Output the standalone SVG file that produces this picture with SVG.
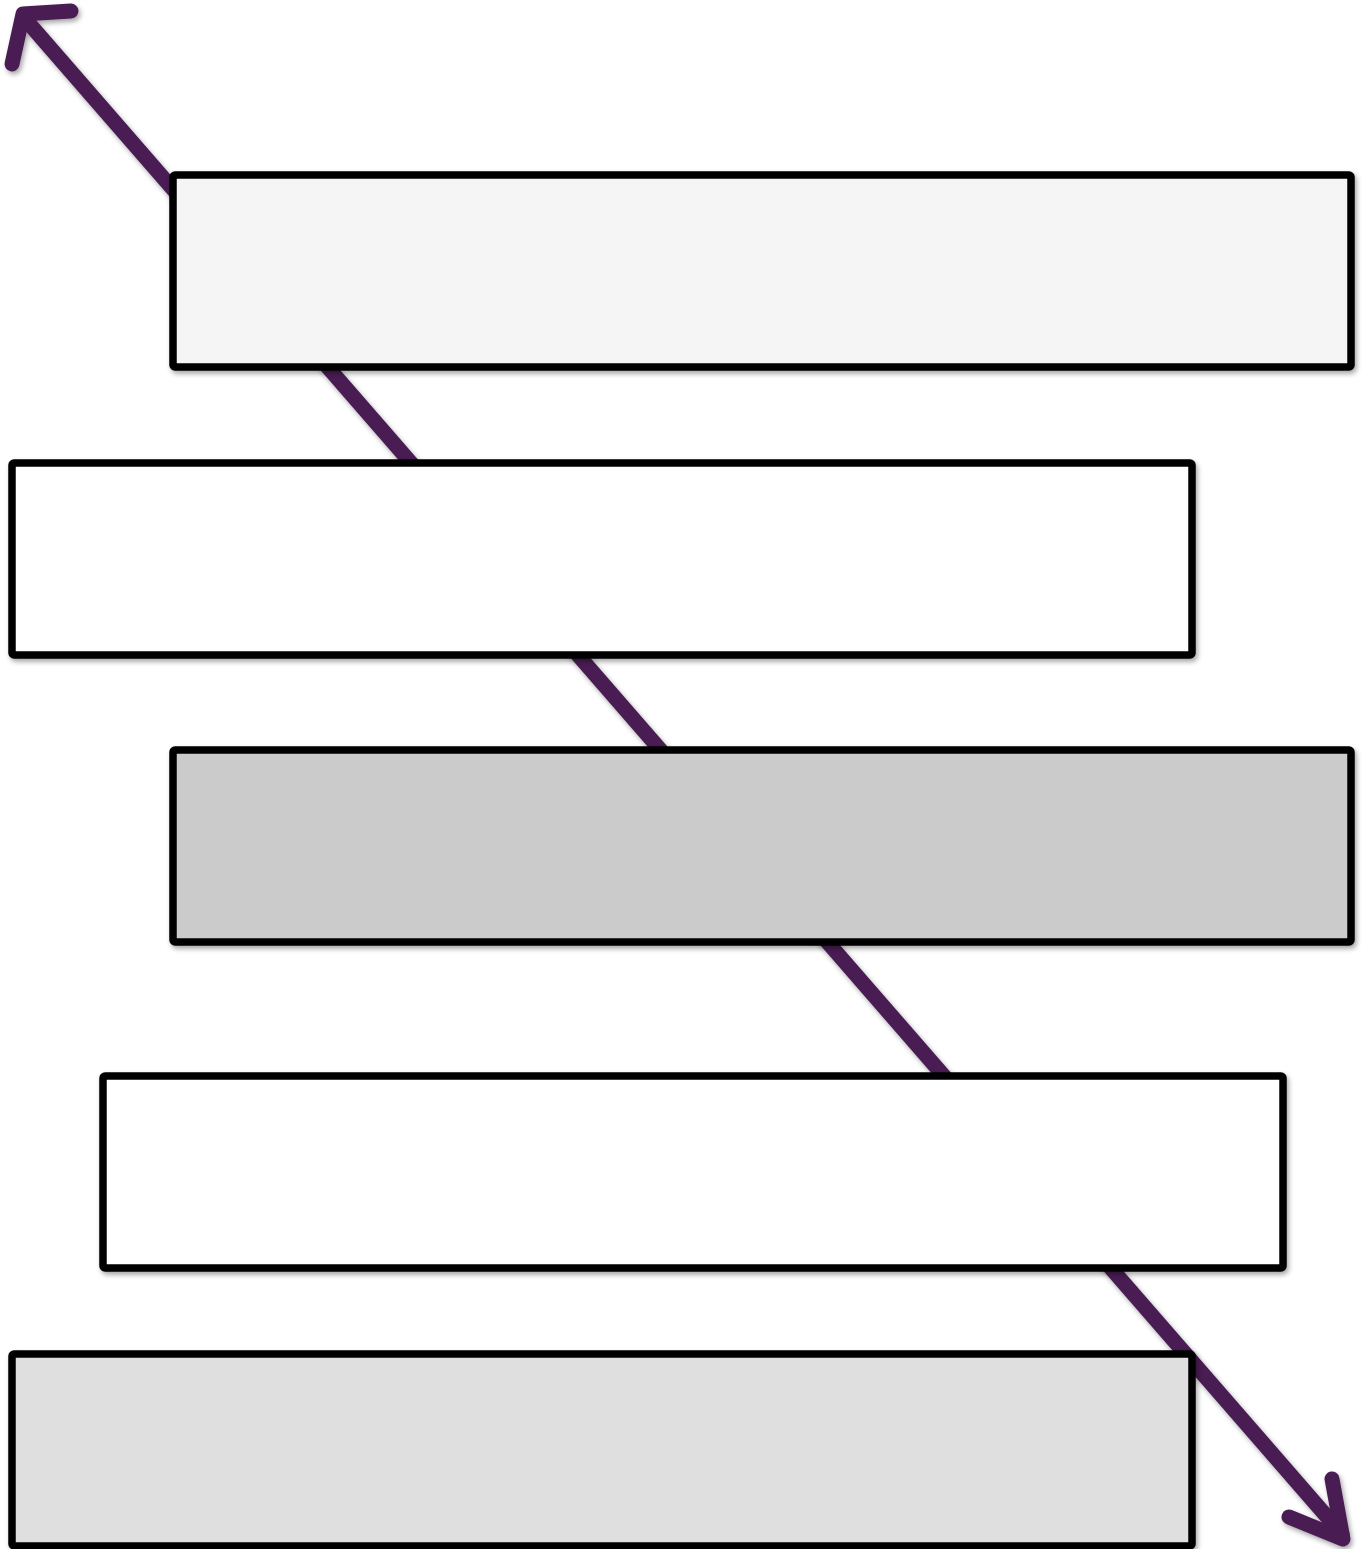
<svg xmlns="http://www.w3.org/2000/svg" width="1362" height="1549" viewBox="0 0 1362 1549">
<defs>
<style>
.box{stroke:#000;stroke-width:7.5;filter:url(#sh)}
.arr{stroke:#4a1f52;stroke-width:15;fill:none;stroke-linecap:round;stroke-linejoin:round}
</style>
<filter id="sh" x="-5%" y="-5%" width="110%" height="120%">
<feDropShadow dx="2" dy="3" stdDeviation="2.5" flood-color="#000" flood-opacity="0.35"/>
</filter>
</defs>
<rect width="1362" height="1549" fill="#fff"/>
<g id="connectors" filter="url(#sh)">
<path class="arr" d="M26,20 L1342,1534"/>
<path class="arr" d="M71,11 L23,14 L12,64"/>
<path class="arr" d="M1332,1479 L1343,1539 L1289,1517"/>
</g>
<g id="node1"><rect class="box" x="173" y="175" width="1178" height="192" rx="2" fill="#f5f5f5"/></g>
<g id="node2"><rect class="box" x="12" y="463" width="1180" height="192" rx="2" fill="#ffffff"/></g>
<g id="node3"><rect class="box" x="173" y="750" width="1178" height="192" rx="2" fill="#cbcbcb"/></g>
<g id="node4"><rect class="box" x="103" y="1076" width="1180" height="192" rx="2" fill="#ffffff"/></g>
<g id="node5"><rect class="box" x="12" y="1354" width="1180" height="192" rx="2" fill="#dfdfdf"/></g>
</svg>
